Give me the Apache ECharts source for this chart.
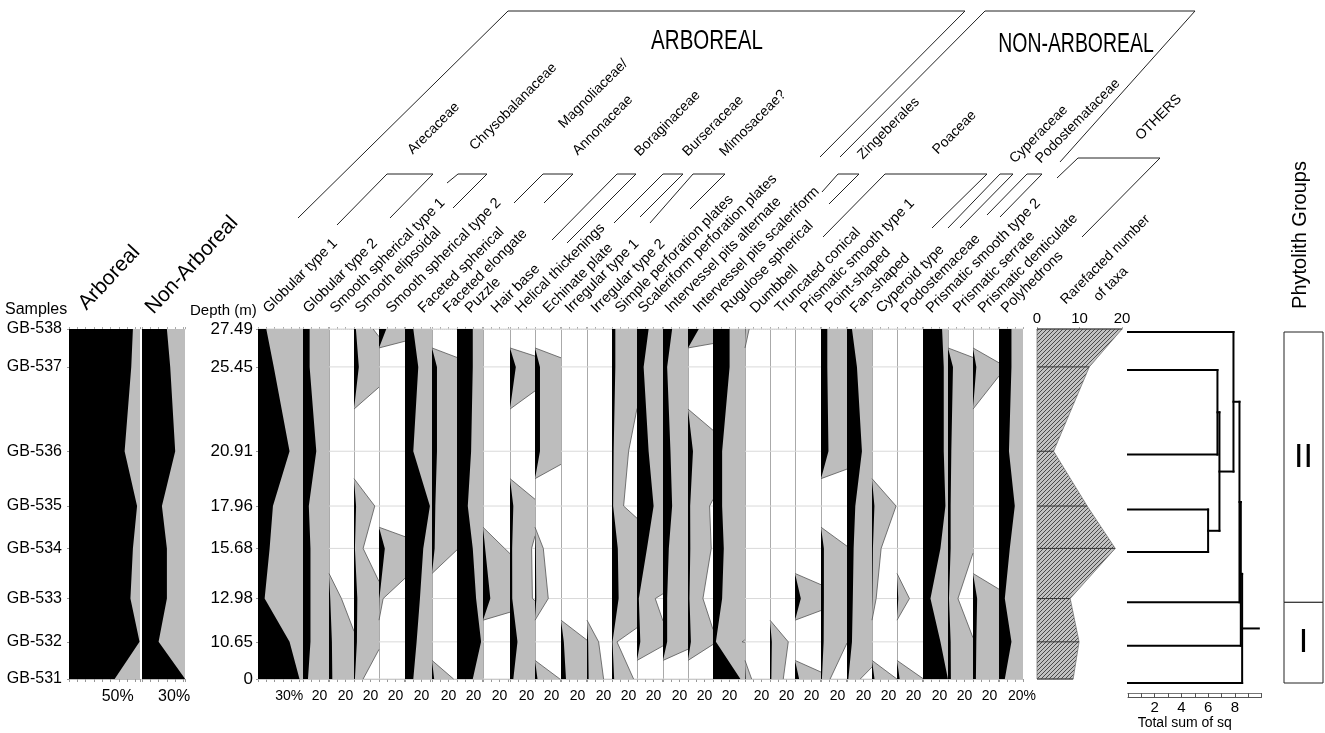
<!DOCTYPE html>
<html>
<head>
<meta charset="utf-8">
<script src="https://cdn.jsdelivr.net/npm/echarts@6.0.0/dist/echarts.min.js"></script>
<style>html,body{margin:0;padding:0;background:#fff}#chart{width:1325px;height:733px}</style>
</head>
<body>
<div id="chart"></div>
<script>
// ================= DATA =================
const samples = ['GB-538','GB-537','GB-536','GB-535','GB-534','GB-533','GB-532','GB-531'];
const depths = [27.49, 25.45, 20.91, 17.96, 15.68, 12.98, 10.65, 0];
const depthLabels = ['27.49','25.45','20.91','17.96','15.68','12.98','10.65','0'];

// percentages (top sample first)
const arboreal    = [77, 75, 67, 82, 77, 74, 85, 55];
const nonArboreal = [30, 34, 40, 24, 30, 30, 20, 52];

const globularType1          = [10, 19, 38, 18, 14, 8, 38, 50];
const globularType2          = [8, 8, 16, 7, 9, 9, 9, 6];
const smoothSpherical1       = [0, 0, 0, 0, 0, 1.5, 3.5, 4];
const smoothElipsoidal       = [2.3, 5.8, 0, 2.5, 1.1, 4, 3.5, 1.1];
const smoothSpherical2       = [8.8, 0, 0, 0, 7, 0.5, 0, 0];
const facetedSpherical       = [10, 16, 10, 30, 22, 18, 14, 10];
const facetedElongate        = [0, 6, 6, 4, 3.2, 0, 0, 2.6];
const puzzle                 = [19, 19, 17, 13, 19, 23, 29, 19];
const hairBase               = [0, 0, 0, 0, 2.6, 8.8, 0, 0];
const helicalThickenings     = [0, 7, 0, 4, 2.6, 2.7, 9, 4];
const echinatePlate          = [0, 6, 6, 0, 1, 1.6, 0, 3];
const irregularType1         = [0, 0, 0, 0, 0, 0, 3.4, 6];
const irregularType2         = [0, 0, 0, 0, 0, 0, 1.4, 2];
const simplePerforation      = [4, 4, 2, 1.4, 7, 8, 0.6, 2.6];
const scaleriformPerforation = [14, 8, 14, 20, 12, 2.2, 4, 0];
const intervesselAlternate   = [11, 5, 9, 11, 7, 5, 5, 0];
const intervesselScaleriform = [13, 0, 6, 2.6, 2.8, 1.8, 3.5, 0];
const ruguloseSpherical      = [20, 20, 11, 11, 13, 11, 3.5, 33];
const dumbbell               = [0.5, 0, 0, 0, 0, 0, 0, 0.8];
const truncatedConical       = [0, 0, 0, 0, 0, 0, 2.2, 1.6];
const prismaticSmooth1       = [0, 0, 0, 0, 0, 7, 0, 5];
const pointShaped            = [7.6, 7.6, 9, 0, 3.5, 3.5, 3.2, 1.1];
const fanShaped              = [6, 12, 18, 10, 8, 7, 6, 1.6];
const cyperoidType           = [0, 0, 0, 2.9, 1.1, 0.5, 0, 3];
const podostemaceae          = [0, 0, 0, 0, 0, 1.5, 0, 3.2];
const prismaticSmooth2       = [23, 25, 25, 27, 21, 9, 21, 30];
const prismaticSerrate       = [0, 6, 4, 3.2, 3.2, 1.2, 3.2, 3.5];
const prismaticDenticulate   = [0, 4, 0, 0, 0, 5, 4, 3.5];
const polyhedrons            = [15, 15, 12, 19, 13, 7, 15, 7];

const taxonNames = ['Globular type 1','Globular type 2','Smooth spherical type 1','Smooth elipsoidal',
  'Smooth spherical type 2','Faceted spherical','Faceted elongate','Puzzle','Hair base','Helical thickenings',
  'Echinate plate','Irregular type 1','Irregular type 2','Simple perforation plates','Scaleriform perforation plates',
  'Intervessel pits alternate','Intervessel pits scaleriform','Rugulose spherical','Dumbbell','Truncated conical',
  'Prismatic smooth type 1','Point-shaped','Fan-shaped','Cyperoid type','Podostemaceae','Prismatic smooth type 2',
  'Prismatic serrate','Prismatic denticulate','Polyhedrons'];
const taxonValues = [globularType1, globularType2, smoothSpherical1, smoothElipsoidal, smoothSpherical2,
  facetedSpherical, facetedElongate, puzzle, hairBase, helicalThickenings, echinatePlate, irregularType1,
  irregularType2, simplePerforation, scaleriformPerforation, intervesselAlternate, intervesselScaleriform,
  ruguloseSpherical, dumbbell, truncatedConical, prismaticSmooth1, pointShaped, fanShaped, cyperoidType,
  podostemaceae, prismaticSmooth2, prismaticSerrate, prismaticDenticulate, polyhedrons];

const rarefiedTaxa = [20, 12.3, 3.9, 11.8, 18.4, 7.8, 9.9, 8.5];

// dendrogram (total sum of squares)
const mergeLeft   = ['GB-537','GB-535','m1','GB-538','m4','m5','m6'];
const mergeRight  = ['GB-536','GB-534','m2','m3','GB-533','GB-532','GB-531'];
const mergeHeight = [6.7, 6.0, 6.85, 7.9, 8.35, 8.45, 8.55];
const rootStub = 9.8;

// phytolith groups
const zoneNames  = ['II', 'I'];
const zoneTop    = [27.49, 12.98];
const zoneBottom = [12.98, 0];

// family / group headings
const familyLabels = ['Arecaceae','Chrysobalanaceae','Magnoliaceae/','Annonaceae','Boraginaceae','Burseraceae',
  'Mimosaceae?','Zingeberales','Poaceae','Cyperaceae','Podostemataceae','OTHERS'];

// ================= LAYOUT =================
const FONT = 'Liberation Sans, Arial, Helvetica, sans-serif';
const PX_PER_PCT = 0.83;
const GRID_TOP = 329, GRID_H = 350;
const BREAK_DEPTH = 10.65, BREAK_SPAN = 2.0;
function pos(d) { return d >= BREAK_DEPTH ? d : BREAK_DEPTH - BREAK_SPAN * (BREAK_DEPTH - d) / BREAK_DEPTH; }
const Y_MIN = pos(Math.min(...depths)), Y_MAX = pos(Math.max(...depths));
const EXAG = 10;

const taxonEdges = [258,303,329,354,379,405,432,457,483,510,535,561,587,612,637,663,688,713,745,770,795,821,847,872,897,923,948,973,999,1023];
const taxonLabelX = [265,305,332,357,388,420,445,467,493,517,545,567,593,617,640,667,695,723,752,777,802,827,852,878,903,928,955,980,1003];
const familyPos = [[410,157],[472,153],[561,131],[575,158],[637,159],[685,159],[722,159],[860,162],[935,157],[1012,166],[1038,166],[1138,143]];
const brackets = [
  [[298,218],[508,11],[965,11],[820,157]],
  [[840,157],[985,11],[1195,11],[1060,162]],
  [[1057,178],[1078,158],[1160,158],[1082,237]],
  [[337,225],[387,174],[433,174],[390,218]],
  [[447,183],[458,174],[487,174],[453,208]],
  [[514,203],[543,174],[573,174],[544,203]],
  [[552,240],[617,174],[636,174],[567,243]],
  [[614,223],[663,174],[683,174],[640,217]],
  [[650,223],[693,174],[725,174],[690,209]],
  [[822,192],[838,174],[859,174],[829,204]],
  [[823,237],[885,174],[987,174],[932,228]],
  [[948,228],[1000,174],[1013,174],[960,228]],
  [[987,215],[1027,174],[1042,174],[1000,217]]
];

// ================= HELPERS =================
const grids = [], xAxes = [], yAxes = [], series = [];
function addGrid(left, width, top, height) {
  grids.push({left, top, width, height, containLabel: false, outerBoundsMode: 'none'});
  return grids.length - 1;
}
function addX(cfg) { xAxes.push(Object.assign({type: 'value', splitLine: {show: false}}, cfg)); return xAxes.length - 1; }
function addY(cfg) {
  yAxes.push(Object.assign({type: 'value', min: Y_MIN, max: Y_MAX, splitLine: {show: false},
    axisTick: {show: false}, axisLabel: {show: false}, axisLine: {show: false}}, cfg));
  return yAxes.length - 1;
}
function buildCurve(vals, factor) {
  const order = depths.map((d, i) => i).sort((a, b) => depths[a] - depths[b]);
  const pts = []; let pv = null, pp = null;
  order.forEach(i => {
    const v = vals[i] * factor, p = pos(depths[i]);
    if (pv !== null && ((pv === 0) !== (v === 0))) pts.push([0, (pp + p) / 2]);
    pts.push([v, p]); pv = v; pp = p;
  });
  return pts;
}
function clipCurve(pts, max) {
  const out = [];
  pts.forEach((a, i) => {
    if (i > 0) {
      const b = pts[i - 1];
      if ((b[0] > max) !== (a[0] > max)) {
        const t = (max - b[0]) / (a[0] - b[0]);
        out.push([max, b[1] + t * (a[1] - b[1])]);
      }
    }
    out.push([Math.min(a[0], max), a[1]]);
  });
  return out;
}
function profileRender(vals, max, showGrid) {
  return function (params, api) {
    const C = p => api.coord(p);
    const kids = [];
    if (showGrid) depths.forEach(d => {
      const a = C([0, pos(d)]), b = C([max, pos(d)]);
      kids.push({type: 'line', shape: {x1: a[0], y1: a[1], x2: b[0], y2: b[1]}, style: {stroke: '#d9d9d9', lineWidth: 1}});
    });
    const gc = clipCurve(buildCurve(vals, EXAG), max);
    kids.push({type: 'polygon', shape: {points: [[0, gc[0][1]], ...gc, [0, gc[gc.length - 1][1]]].map(C)},
      style: {fill: '#bdbdbd'}});
    let run = [gc[0]];
    const flush = () => { if (run.length > 1) kids.push({type: 'polyline', shape: {points: run.map(C)}, style: {stroke: '#555', lineWidth: 0.8, fill: null}}); };
    for (let i = 1; i < gc.length; i++) {
      const a = gc[i], b = gc[i - 1];
      const edge = (a[0] >= max - 1e-9 && b[0] >= max - 1e-9) || (a[0] <= 1e-9 && b[0] <= 1e-9);
      if (edge) { flush(); run = [a]; } else run.push(a);
    }
    flush();
    const bc = clipCurve(buildCurve(vals, 1), max);
    kids.push({type: 'polygon', shape: {points: [[0, bc[0][1]], ...bc, [0, bc[bc.length - 1][1]]].map(C)},
      style: {fill: '#000'}});
    return {type: 'group', children: kids};
  };
}
function pctLabel(v, suffix, size, margin) {
  return {show: true, customValues: [v], formatter: () => v + suffix, fontSize: size, color: '#000',
    fontFamily: FONT, margin: margin, padding: suffix ? [0, 0, 0, size * 0.9] : 0};
}
function addProfilePanel(left, right, vals, labelVal, suffix, labelSize, showGrid, yCfg) {
  const max = (right - left) / PX_PER_PCT;
  const g = addGrid(left, right - left, GRID_TOP, GRID_H);
  const xb = addX({gridIndex: g, position: 'bottom', min: 0, max, interval: 10,
    axisLine: {show: true, lineStyle: {color: '#bbb', width: 1}},
    axisTick: {show: true, length: 3, lineStyle: {color: '#999'}},
    axisLabel: pctLabel(labelVal, suffix, labelSize, 10)});
  addX({gridIndex: g, position: 'top', min: 0, max, interval: 10,
    axisLine: {show: true, lineStyle: {color: '#ccc', width: 1, type: 'dotted'}},
    axisTick: {show: true, length: 2, lineStyle: {color: '#aaa'}}, axisLabel: {show: false}});
  const y = addY(Object.assign({gridIndex: g, axisLine: {show: true, lineStyle: {color: '#aaa', width: 1}}}, yCfg || {}));
  series.push({type: 'custom', xAxisIndex: xb, yAxisIndex: y, data: [[0, Y_MIN]], silent: true, clip: false,
    renderItem: profileRender(vals, max, showGrid)});
}
const depthPos = depths.map(pos);
const labelAt = (arr) => (v) => { const i = depthPos.findIndex(p => Math.abs(p - v) < 1e-6); return i >= 0 ? arr[i] : ''; };

// ================= PANELS =================
addProfilePanel(69, 140, arboreal, 50, '%', 16, false, {
  axisLabel: {show: true, customValues: depthPos, formatter: labelAt(samples), fontSize: 16, color: '#000', fontFamily: FONT, margin: 7},
  axisTick: {show: true, customValues: depthPos, length: 2, lineStyle: {color: '#999'}}
});
addProfilePanel(142, 185, nonArboreal, 30, '%', 16, false);
taxonValues.forEach((vals, i) => {
  const first = i === 0, last = i === taxonValues.length - 1;
  addProfilePanel(taxonEdges[i], taxonEdges[i + 1], vals, first ? 30 : 20, (first || last) ? '%' : '', 14, true,
    first ? {axisLabel: {show: true, customValues: depthPos, formatter: labelAt(depthLabels), fontSize: 17, color: '#000', fontFamily: FONT, margin: 5},
             axisTick: {show: true, customValues: depthPos, length: 2, lineStyle: {color: '#999'}}} : null);
});

// rarefaction
const hatch = document.createElement('canvas'); hatch.width = 4; hatch.height = 4;
(function () {
  const c = hatch.getContext('2d'); c.fillStyle = '#c2c2c2'; c.fillRect(0, 0, 4, 4);
  c.strokeStyle = '#4a4a4a'; c.lineWidth = 1; c.beginPath();
  c.moveTo(0, 4); c.lineTo(4, 0); c.moveTo(-1, 1); c.lineTo(1, -1); c.moveTo(3, 5); c.lineTo(5, 3); c.stroke();
})();
(function () {
  const g = addGrid(1037, 85, GRID_TOP, GRID_H);
  addX({gridIndex: g, position: 'bottom', min: 0, max: 20, axisLine: {show: false}, axisTick: {show: false}, axisLabel: {show: false}});
  const xt = addX({gridIndex: g, position: 'top', min: 0, max: 20, interval: 10,
    axisLine: {show: true, lineStyle: {color: '#aaa', type: 'dotted'}},
    axisTick: {show: true, length: 2, lineStyle: {color: '#aaa'}},
    axisLabel: {show: true, fontSize: 15, color: '#000', fontFamily: FONT, margin: 3}});
  const y = addY({gridIndex: g});
  series.push({type: 'custom', xAxisIndex: xt, yAxisIndex: y, data: [[0, Y_MIN]], silent: true, clip: false,
    renderItem: function (params, api) {
      const C = p => api.coord(p);
      const pts = buildCurve(rarefiedTaxa, 1);
      const kids = [{type: 'polygon', shape: {points: [[0, pts[0][1]], ...pts, [0, pts[pts.length - 1][1]]].map(C)},
        style: {fill: {image: hatch, repeat: 'repeat'}, stroke: '#777', lineWidth: 0.8}}];
      depths.forEach((d, i) => {
        const a = C([0, pos(d)]), b = C([rarefiedTaxa[i], pos(d)]);
        kids.push({type: 'line', shape: {x1: a[0], y1: a[1], x2: b[0], y2: b[1]}, style: {stroke: '#333', lineWidth: 1}});
      });
      return {type: 'group', children: kids};
    }});
})();

// dendrogram
(function () {
  const g = addGrid(1128, 133.5, GRID_TOP + 3, GRID_H + 1);
  const xa = addX({gridIndex: g, position: 'bottom', offset: 14, min: 0, max: 10, interval: 1,
    axisLine: {show: true, lineStyle: {color: '#555', width: 1}},
    axisTick: {show: true, inside: true, length: 4, lineStyle: {color: '#555'}},
    axisLabel: {show: true, customValues: [2, 4, 6, 8], fontSize: 15, color: '#000', fontFamily: FONT, margin: 3},
    name: 'Total sum of sq', nameLocation: 'middle', nameGap: 19,
    nameTextStyle: {fontSize: 14, color: '#000', fontFamily: FONT, padding: [0, 20, 0, 0]}});
  addX({gridIndex: g, position: 'bottom', offset: 10, min: 0, max: 10,
    axisLine: {show: true, lineStyle: {color: '#777', width: 1}}, axisTick: {show: false}, axisLabel: {show: false}});
  const y = addY({gridIndex: g});
  series.push({type: 'custom', xAxisIndex: xa, yAxisIndex: y, data: [[0, Y_MIN]], silent: true, clip: false,
    renderItem: function (params, api) {
      const C = p => api.coord(p);
      const nodes = {};
      samples.forEach((s, i) => { nodes[s] = {x: 0, y: pos(depths[i])}; });
      const segs = [];
      mergeHeight.forEach((h, i) => {
        const L = nodes[mergeLeft[i]], R = nodes[mergeRight[i]];
        segs.push([[L.x, L.y], [h, L.y]], [[R.x, R.y], [h, R.y]], [[h, L.y], [h, R.y]]);
        nodes['m' + (i + 1)] = {x: h, y: (L.y + R.y) / 2};
      });
      const root = nodes['m' + mergeHeight.length];
      segs.push([[root.x, root.y], [rootStub, root.y]]);
      return {type: 'group', children: segs.map(s => {
        const a = C(s[0]), b = C(s[1]);
        return {type: 'line', shape: {x1: a[0], y1: a[1], x2: b[0], y2: b[1]}, style: {stroke: '#000', lineWidth: 2, lineCap: 'square'}};
      })};
    }});
})();

// phytolith groups
(function () {
  const g = addGrid(1284, 39, GRID_TOP + 3, GRID_H + 1);
  const xb = addX({gridIndex: g, position: 'bottom', min: 0, max: 1, axisLine: {show: false}, axisTick: {show: false}, axisLabel: {show: false}});
  const y = addY({gridIndex: g});
  series.push({type: 'custom', xAxisIndex: xb, yAxisIndex: y, data: [[0, Y_MIN]], silent: true, clip: false,
    renderItem: function (params, api) {
      const kids = [];
      zoneNames.forEach((n, i) => {
        const a = api.coord([0, pos(zoneTop[i])]), b = api.coord([1, pos(zoneBottom[i])]);
        kids.push({type: 'rect', shape: {x: a[0], y: a[1], width: b[0] - a[0], height: b[1] - a[1]},
          style: {fill: '#fff', stroke: '#222', lineWidth: 1}});
        kids.push({type: 'text', x: (a[0] + b[0]) / 2, y: (a[1] + b[1]) / 2 - (i === 0 ? 10 : 0),
          style: {text: n, font: '34px ' + FONT, fontSize: 34, fontFamily: FONT, fill: '#000',
            textAlign: 'center', align: 'center', textVerticalAlign: 'middle', verticalAlign: 'middle'}});
      });
      return {type: 'group', children: kids};
    }});
})();

// ================= GRAPHIC ANNOTATIONS =================
const gfx = [];
function txt(text, x, y, size, rot, align, valign, sx) {
  gfx.push({type: 'text', x, y, rotation: rot || 0, scaleX: sx || 1, silent: true,
    style: {text, font: size + 'px ' + FONT, fontSize: size, fontFamily: FONT, fill: '#000',
      textAlign: align || 'left', align: align || 'left',
      textVerticalAlign: valign || 'bottom', verticalAlign: valign || 'bottom'}});
}
const R45 = Math.PI / 4;
txt('Samples', 5, 310, 16, 0, 'left', 'middle');
txt('Depth (m)', 190, 311, 15, 0, 'left', 'middle');
txt('Arboreal', 90, 314, 21, 47 * Math.PI / 180);
txt('Non-Arboreal', 157, 318, 21, 47 * Math.PI / 180);
taxonNames.forEach((n, i) => txt(n, taxonLabelX[i] + 6, 316, 14.5, R45));
familyPos.forEach((p, i) => txt(familyLabels[i], p[0] + 5, p[1], 14, R45));
txt('Rarefacted number', 1068, 307, 14, R45);
txt('of taxa', 1101, 304, 14, R45);
txt('ARBOREAL', 707, 42, 27, 0, 'center', 'middle', 0.76);
txt('NON-ARBOREAL', 1076, 45, 27, 0, 'center', 'middle', 0.72);
txt('Phytolith Groups', 1300, 235, 20, Math.PI / 2, 'center', 'middle');
brackets.forEach(pts => gfx.push({type: 'polyline', silent: true, shape: {points: pts},
  style: {stroke: '#222', lineWidth: 1, fill: null}}));

const chart = echarts.init(document.getElementById('chart'), null, {renderer: 'canvas', width: 1325, height: 733});
chart.setOption({
  animation: false,
  backgroundColor: '#fff',
  textStyle: {fontFamily: FONT, color: '#000'},
  grid: grids, xAxis: xAxes, yAxis: yAxes, series,
  graphic: {elements: gfx}
});
</script>
</body>
</html>
